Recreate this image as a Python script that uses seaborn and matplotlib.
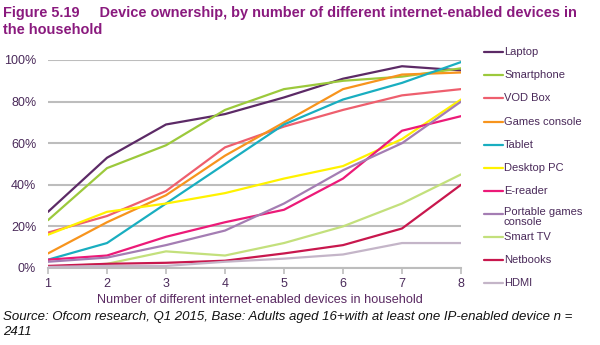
import matplotlib
matplotlib.use("Agg")
import matplotlib.pyplot as plt
from matplotlib.lines import Line2D
import seaborn as sns
import pandas as pd

devices_count = [1, 2, 3, 4, 5, 6, 7, 8]

laptop = [27, 53, 69, 74, 82, 91, 97, 95]
smartphone = [23, 48, 59, 76, 86, 90, 92, 96]
vod_box = [17, 25, 37, 58, 68, 76, 83, 86]
games_console = [7, 22, 35, 54, 70, 86, 93, 94]
tablet = [4, 12, 31, 50, 69, 81, 89, 99]
desktop_pc = [16, 27, 31, 36, 43, 49, 62, 81]
e_reader = [4, 6, 15, 22, 28, 43, 66, 73]
portable_games = [3, 5, 11, 18, 31, 47, 60, 80]
smart_tv = [0.5, 2, 8, 6, 12, 20, 31, 45]
netbooks = [1, 2, 2.5, 3.5, 7, 11, 19, 40]
hdmi = [0.5, 1, 1, 3, 4.5, 6.5, 12, 12]

series_names = ["Laptop", "Smartphone", "VOD Box", "Games console", "Tablet",
                "Desktop PC", "E-reader", "Portable games\nconsole", "Smart TV",
                "Netbooks", "HDMI"]
series_values = [laptop, smartphone, vod_box, games_console, tablet, desktop_pc,
                 e_reader, portable_games, smart_tv, netbooks, hdmi]
series_colors = ["#5c2a66", "#9cc93c", "#ee5f6e", "#f7941d", "#19aec0",
                 "#fff200", "#ec1a78", "#a47db3", "#c3e07c", "#c8174d", "#c4b5c8"]

rows = []
for name, vals in zip(series_names, series_values):
    for x, v in zip(devices_count, vals):
        rows.append({"devices": x, "share": v, "device": name})
df = pd.DataFrame(rows)

sns.set_theme(style="white")
plt.rcParams["font.family"] = ["Liberation Sans", "DejaVu Sans"]

fig = plt.figure(figsize=(6.0, 3.45), dpi=100)
ax = fig.add_axes([48 / 600, 1 - 268 / 345, (461 - 48) / 600, (268 - 60) / 345])

sns.lineplot(data=df, x="devices", y="share", hue="device",
             hue_order=series_names, palette=series_colors,
             linewidth=1.6, legend=False, ax=ax, zorder=3)

ax.set_xlim(1, 8)
ax.set_ylim(0, 100)
ax.set_yticks([0, 20, 40, 60, 80, 100])
ax.set_yticklabels([f"{t}%" for t in [0, 20, 40, 60, 80, 100]])
ax.set_xticks(devices_count)
ax.set_xticklabels([str(x) for x in devices_count])
ax.yaxis.grid(True, color="#bdbdbd", linewidth=1.5, zorder=0)
ax.set_axisbelow(True)
for s in ["top", "right", "left"]:
    ax.spines[s].set_visible(False)
ax.spines["bottom"].set_color("#bdbdbd")
ax.spines["bottom"].set_linewidth(1.5)
ax.tick_params(axis="x", bottom=True, length=4, width=1.2, color="#bdbdbd",
               labelsize=9, labelcolor="#4a2a5a", pad=3)
ax.tick_params(axis="y", left=False, length=0, labelsize=9,
               labelcolor="#4a2a5a", pad=8.5)
ax.set_xlabel("")
ax.set_ylabel("")

# Legend drawn to the right of the plot
legend_y = [52, 75, 98, 122, 145, 168, 191, 214, 237, 260, 283]
for name, color, yp in zip(series_names, series_colors, legend_y):
    yf = 1 - yp / 345
    fig.add_artist(Line2D([484 / 600, 503 / 600], [yf, yf], color=color,
                          linewidth=1.6, transform=fig.transFigure))
    if "\n" in name:
        fig.text(504 / 600, 1 - (yp - 7) / 345, name, fontsize=8.0,
                 color="#4a2a5a", va="top", ha="left", linespacing=0.95)
    else:
        fig.text(504 / 600, yf, name, fontsize=8.0, color="#4a2a5a",
                 va="center", ha="left")


def fit_width(txt, target_px):
    """Scale a text's font size so its rendered width equals target_px."""
    renderer = fig.canvas.get_renderer()
    w = txt.get_window_extent(renderer).width
    txt.set_fontsize(txt.get_fontsize() * target_px / w)


title = fig.text(3 / 600, 1 - 6 / 345,
                 "Figure 5.19     Device ownership, by number of different internet-enabled devices in",
                 fontsize=10, fontweight="bold", color="#8a1a7e", va="top", ha="left")
fit_width(title, 575)
fig.text(3 / 600, 1 - 23 / 345, "the household",
         fontsize=title.get_fontsize(), fontweight="bold", color="#8a1a7e",
         va="top", ha="left")

xlab = fig.text(260 / 600, 1 - 300 / 345,
                "Number of different internet-enabled devices in household",
                fontsize=9, color="#5a2a62", ha="center", va="center")
fit_width(xlab, 325)

src = fig.text(3 / 600, 1 - 311 / 345,
               "Source: Ofcom research, Q1 2015, Base: Adults aged 16+with at least one IP-enabled device n =",
               fontsize=9.3, style="italic", color="#111111", ha="left", va="top")
fit_width(src, 571)
fig.text(3 / 600, 1 - 326 / 345, "2411", fontsize=src.get_fontsize(),
         style="italic", color="#111111", ha="left", va="top")

fig.savefig("out.png", dpi=100)
